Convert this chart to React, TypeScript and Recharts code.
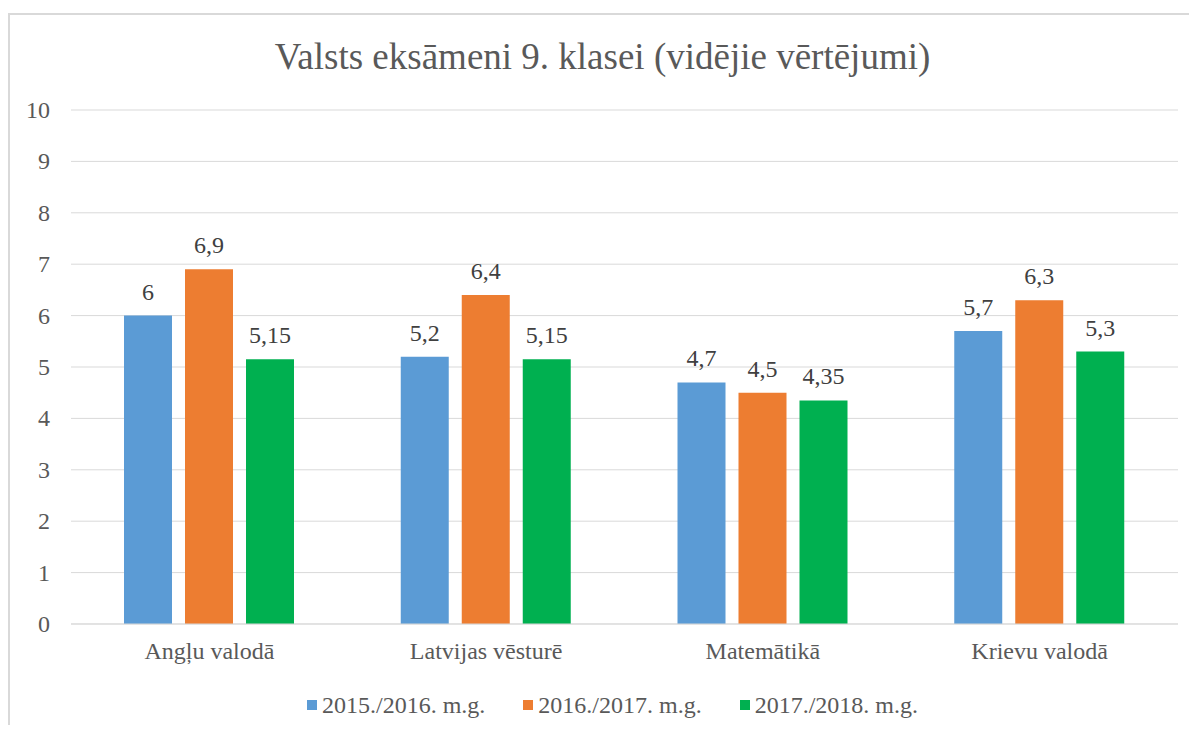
import React from 'react';
import { BarChart, Bar, XAxis, YAxis, CartesianGrid, Legend, LabelList } from 'recharts';

const categories = ['Angļu valodā', 'Latvijas vēsturē', 'Matemātikā', 'Krievu valodā'];
const series2015 = [6, 5.2, 4.7, 5.7];
const series2016 = [6.9, 6.4, 4.5, 6.3];
const series2017 = [5.15, 5.15, 4.35, 5.3];
const seriesNames = ['2015./2016. m.g.', '2016./2017. m.g.', '2017./2018. m.g.'];
const seriesKeys = ['s2015', 's2016', 's2017'];
const seriesColors = ['#5B9BD5', '#ED7D31', '#00B050'];
const yTicks = [0, 1, 2, 3, 4, 5, 6, 7, 8, 9, 10];
const title = 'Valsts eksāmeni 9. klasei (vidējie vērtējumi)';

const data = categories.map((c, i) => ({
  name: c,
  s2015: series2015[i],
  s2016: series2016[i],
  s2017: series2017[i],
}));

const FONT = 'Liberation Serif';
const fmt = (v: any) => String(v).replace('.', ',');

const LegendContent = () => (
  <div style={{ display: 'flex', justifyContent: 'center', fontFamily: FONT, fontSize: 24, color: '#595959', lineHeight: '28px' }}>
    {seriesNames.map((n, i) => (
      <div key={n} style={{ display: 'flex', alignItems: 'center', marginRight: i < 2 ? 38 : 0 }}>
        <span style={{ display: 'inline-block', width: 10, height: 10, background: seriesColors[i], marginRight: 5 }} />
        <span>{n}</span>
      </div>
    ))}
  </div>
);

const XTick = (props: any) => {
  const { x, y, payload } = props;
  return (
    <text x={x} y={y + 35} textAnchor="middle" fill="#595959" fontSize={24} fontFamily={FONT}>
      {payload.value}
    </text>
  );
};

const YTick = (props: any) => {
  const { x, y, payload } = props;
  return (
    <text x={x} y={y + 8} textAnchor="end" fill="#595959" fontSize={24} fontFamily={FONT}>
      {payload.value}
    </text>
  );
};

const BarLabel = (props: any) => {
  const { x, y, width, value } = props;
  return (
    <text x={x + width / 2} y={y - 16} textAnchor="middle" fill="#404040" fontSize={24} fontFamily={FONT}>
      {fmt(value)}
    </text>
  );
};

export default function App() {
  return (
    <div style={{ position: 'relative', width: 1189, height: 717, paddingTop: 5, boxSizing: 'border-box', fontFamily: FONT }}>
      <div style={{ position: 'relative', borderTop: '2px solid #d9d9d9', borderLeft: '2px solid #d9d9d9', width: 1187, height: 710 }}>
        <div style={{ position: 'absolute', left: 0, width: 1185, top: 20, textAlign: 'center', fontFamily: FONT, fontSize: 37, color: '#595959', lineHeight: '44px' }}>
          {title}
        </div>
        <BarChart
          width={1185}
          height={710}
          data={data}
          margin={{ top: 95, right: 17, bottom: 41, left: 0 }}
          barSize={48}
          barGap={13}
          barCategoryGap={52}
        >
          <CartesianGrid vertical={false} stroke="#d9d9d9" strokeWidth={1} />
          <XAxis
            dataKey="name"
            height={60}
            axisLine={{ stroke: '#d9d9d9', strokeWidth: 1 }}
            tickLine={false}
            tickSize={0}
            tickMargin={0}
            tick={<XTick />}
            interval={0}
          />
          <YAxis
            domain={[0, 10]}
            ticks={yTicks}
            width={61}
            axisLine={false}
            tickLine={false}
            tickSize={0}
            tickMargin={21}
            tick={<YTick />}
            interval={0}
          />
          <Legend
            layout="horizontal"
            verticalAlign="middle"
            align="center"
            content={<LegendContent />}
            wrapperStyle={{ top: 676, left: 10, width: 1185, height: 28 }}
          />
          {seriesKeys.map((k, i) => (
            <Bar key={k} dataKey={k} name={seriesNames[i]} fill={seriesColors[i]} isAnimationActive={false}>
              <LabelList dataKey={k} content={<BarLabel />} />
            </Bar>
          ))}
        </BarChart>
      </div>
    </div>
  );
}
